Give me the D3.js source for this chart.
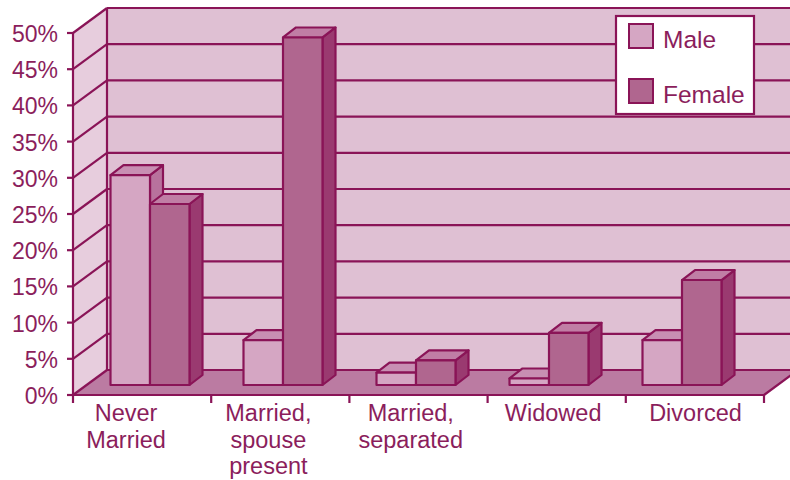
<!DOCTYPE html>
<html><head><meta charset="utf-8">
<script src="https://cdn.jsdelivr.net/npm/d3@7"></script>
<style>body{margin:0;background:#fff}svg{display:block}</style>
</head><body><svg id="c" width="790" height="480"></svg>
<script>
const categories = [["Never","Married"],["Married,","spouse","present"],["Married,","separated"],["Widowed"],["Divorced"]];
const seriesNames = ["Male","Female"];
const male = [29, 6.2, 1.7, 0.9, 6.2];
const female = [25, 48, 3.4, 7.2, 14.5];
const yTicks = [0,5,10,15,20,25,30,35,40,45,50];

const svg = d3.select("#c");
const LINE = "#8a1457", TEXT = "#8b1e5c";
const DX = 34, DY = -25;            // floor depth offset
const bdx = 13, bdy = -10;          // bar depth offset
const bf = 0.4;                     // bar front depth fraction
const ids = d3.range(categories.length);

const yFront = d3.scaleLinear().domain([0,50]).range([395,33]);
const yBack = v => yFront(v) + DY;
const yBar = v => yFront(v) + DY*bf;
const xAxis = d3.scaleBand().domain(ids).range([73,764]).padding(0);
const xBar = d3.scalePoint().domain(ids).range([150,682]);
const xLab = d3.scalePoint().domain(ids).range([126,695.5]);
const bw = 39.5;

const x0 = xAxis.range()[0], x1 = xAxis.range()[1];
svg.append("rect").attr("x",x0+DX).attr("y",yBack(50)).attr("width",x1-x0+10).attr("height",yBack(0)-yBack(50))
  .attr("fill","#dfc0d3");
svg.append("polygon").attr("points",[[x0,yFront(0)],[x0+DX,yBack(0)],[x0+DX,yBack(50)],[x0,yFront(50)]].join(" "))
  .attr("fill","#e7cddd");
svg.append("polygon").attr("points",[[x0,yFront(0)],[x1,yFront(0)],[x1+DX,yBack(0)],[x0+DX,yBack(0)]].join(" "))
  .attr("fill","#bb7ba2");
const g = svg.append("g").attr("stroke",LINE).attr("stroke-width",2.2).attr("fill","none");
yTicks.forEach(v=>{
  g.append("line").attr("x1",x0+DX).attr("x2",800).attr("y1",yBack(v)).attr("y2",yBack(v));
  g.append("line").attr("x1",x0).attr("x2",x0+DX).attr("y1",yFront(v)).attr("y2",yBack(v));
});
g.append("line").attr("x1",x0+DX).attr("x2",x0+DX).attr("y1",yBack(0)).attr("y2",yBack(50));
g.append("line").attr("x1",x1).attr("x2",x1+DX).attr("y1",yFront(0)).attr("y2",yBack(0));

const males = "#d5a6c3", maleTop = "#c88fb3", maleSide = "#b8729d";
const fem = "#b0668f", femTop = "#c07ea5", femSide = "#9a3a70";
const bars = svg.append("g").attr("stroke",LINE).attr("stroke-width",2.2).attr("stroke-linejoin","round");
const data = [];
ids.forEach(i=>{
  [male[i], female[i]].forEach((v,s)=>data.push({i,s,v}));
});
data.forEach(d=>{
  const xl = xBar(d.i) - bw + d.s*bw, xr = xl + bw;
  const yb = yBar(0), yt = yBar(d.v);
  const colF = d.s ? fem : males, colT = d.s ? femTop : maleTop, colS = d.s ? femSide : maleSide;
  bars.append("polygon").attr("points",[[xr,yb],[xr+bdx,yb+bdy],[xr+bdx,yt+bdy],[xr,yt]].join(" ")).attr("fill",colS);
  bars.append("polygon").attr("points",[[xl,yt],[xl+bdx,yt+bdy],[xr+bdx,yt+bdy],[xr,yt]].join(" ")).attr("fill",colT);
  bars.append("rect").attr("x",xl).attr("y",yt).attr("width",bw).attr("height",yb-yt).attr("fill",colF);
});

const ax = svg.append("g").attr("stroke",LINE).attr("stroke-width",2.2);
ax.append("line").attr("x1",x0).attr("x2",x0).attr("y1",yFront(50)).attr("y2",yFront(0));
ax.append("line").attr("x1",x0).attr("x2",x1).attr("y1",yFront(0)).attr("y2",yFront(0));
yTicks.forEach(v=>ax.append("line").attr("x1",x0-6).attr("x2",x0).attr("y1",yFront(v)).attr("y2",yFront(v)));
ids.concat([ids.length]).forEach(i=>{
  const x = i < ids.length ? xAxis(i) : x1;
  ax.append("line").attr("x1",x).attr("x2",x).attr("y1",yFront(0)).attr("y2",yFront(0)+8);
});

const font = "'Liberation Sans', Arial, sans-serif";
svg.append("g").selectAll("text").data(yTicks).join("text")
  .attr("x",58).attr("y",v=>yFront(v)+9).attr("text-anchor","end")
  .attr("font-family",font).attr("font-size",23).attr("fill",TEXT).text(v=>v+"%");

const lab = svg.append("g").attr("font-family",font).attr("font-size",23.5).attr("fill",TEXT).attr("text-anchor","middle");
ids.forEach(i=>{
  const t = lab.append("text").attr("y",421);
  categories[i].forEach((line,k)=>t.append("tspan").attr("x",xLab(i)).attr("dy",k?26.5:0).text(line));
});

const lg = svg.append("g");
lg.append("rect").attr("x",616).attr("y",16).attr("width",138).attr("height",98).attr("fill","#fff").attr("stroke",LINE).attr("stroke-width",2.2);
seriesNames.forEach((n,k)=>{
  lg.append("rect").attr("x",629).attr("y",24+k*55).attr("width",24).attr("height",24)
    .attr("fill",k?fem:males).attr("stroke",LINE).attr("stroke-width",2);
  lg.append("text").attr("x",663).attr("y",48+k*55).attr("font-family",font).attr("font-size",24.5).attr("fill",TEXT).text(n);
});
</script></body></html>
